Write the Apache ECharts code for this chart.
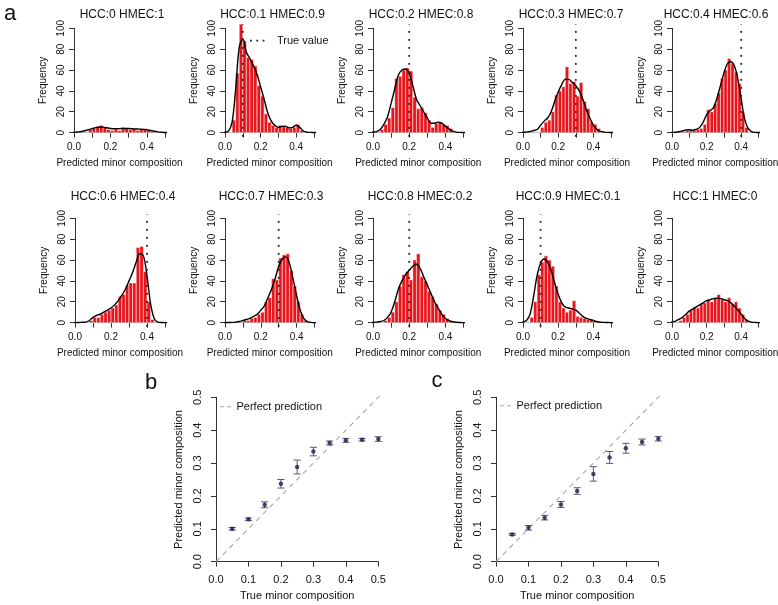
<!DOCTYPE html>
<html><head><meta charset="utf-8">
<script src="https://cdn.jsdelivr.net/npm/echarts@6/dist/echarts.min.js"></script>
<style>html,body{margin:0;padding:0;background:#fff}#c{width:778px;height:605px}</style>
</head><body><div id="c"></div>
<script>
const FONT = '"Liberation Sans", Arial, Helvetica, sans-serif';
const TXT = '#111';
const AX = '#333';
const BAR = '#e8161c';

// ---------- panel a : histograms ----------
const panelTitles = ['HCC:0 HMEC:1','HCC:0.1 HMEC:0.9','HCC:0.2 HMEC:0.8','HCC:0.3 HMEC:0.7','HCC:0.4 HMEC:0.6',
                     'HCC:0.6 HMEC:0.4','HCC:0.7 HMEC:0.3','HCC:0.8 HMEC:0.2','HCC:0.9 HMEC:0.1','HCC:1 HMEC:0'];
const trueValues = [null, 0.1, 0.2, 0.3, 0.4, 0.4, 0.3, 0.2, 0.1, null];
const binEdges = [0,0.02,0.04,0.06,0.08,0.10,0.12,0.14,0.16,0.18,0.20,0.22,0.24,0.26,0.28,0.30,0.32,0.34,0.36,0.38,0.40,0.42,0.44,0.46,0.48,0.50];
const hist1  = [0,0,0,0,3,4,5,7,5,3,2,3,2,5,4,3,4,2,3,4,2,1,0,0,0];
const hist2  = [0,0,12,57,104,88,72,70,64,45,35,18,10,7,5,7,7,5,4,5,8,2,0,0,0];
const hist3  = [0,0,3,8,14,24,52,54,60,62,59,34,23,24,19,12,5,9,10,8,7,4,0,0,0];
const hist4  = [0,0,0,0,0,5,10,12,20,36,40,44,63,47,49,35,48,30,23,10,8,4,0,0,0];
const hist5  = [0,0,0,1,2,2,2,3,4,8,22,20,28,38,52,60,71,66,58,47,20,5,0,0,0];
const hist6  = [0,0,0,0,2,5,5,8,10,12,14,17,25,27,36,38,38,72,73,49,20,3,0,0,0];
const hist7  = [0,0,0,0,0,2,2,4,5,8,10,20,24,42,41,62,65,66,50,35,20,8,2,0,0];
const hist8  = [0,0,0,2,5,10,20,35,46,49,41,60,66,44,40,30,25,18,12,8,4,2,0,0,0];
const hist9  = [0,0,5,20,46,58,64,60,54,35,20,14,10,12,21,6,5,4,3,3,2,0,0,0,0];
const hist10 = [0,0,2,5,8,12,15,14,18,19,22,20,24,27,22,20,24,18,20,14,8,3,0,0,0];

const curveX = [-0.02,0,0.02,0.04,0.06,0.08,0.10,0.12,0.14,0.16,0.18,0.20,0.22,0.24,0.26,0.28,0.30,0.32,0.34,0.36,0.38,0.40,0.42,0.44,0.46,0.48,0.50,0.52];
const curve1  = [0.1,0.3,0.6,1.0,1.8,2.8,3.8,4.8,5.3,5.2,4.6,4.0,3.7,3.7,3.9,4.0,3.9,3.7,3.5,3.3,3.1,2.7,2.0,1.3,0.7,0.3,0.1,0];
const curve2  = [0,0.2,1.5,10,42,82,90,77,71,64,56,44,32,19,11,7,5,6,6,4.5,5,7,5,1.5,0.5,0.2,0.1,0];
const curve3  = [0.2,0.5,1,3,8,15,28,42,55,60,61,57,45,32,26,20,14,9,9,10,9,6,3.5,1.5,0.5,0.2,0.1,0];
const curve4  = [0,0.3,0.5,1,2,3,7,11,14,20,30,39,46,51,51,48,45,40,32,22,14,7,3,1.2,0.5,0.2,0.1,0];
const curve5  = [0,0.2,0.4,0.8,1.5,2.5,2.8,2.2,3,5,10,17,21,24,33,45,57,66,68,64,52,32,13,4,1,0.2,0.1,0];
const curve6  = [0,0,0.1,0.3,0.5,2,5,7,8,10,12,14,17,21,26,32,40,48,58,66,64,45,18,4,0.5,0.1,0,0];
const curve7  = [0,0,0.1,0.2,0.5,1,2,3,4,6,8,12,16,24,32,42,54,61,63,57,42,26,12,4,1,0.2,0,0];
const curve8  = [0,0.1,0.5,1,2,5,10,20,32,40,46,50,54,56,52,44,36,28,20,14,8,4,2,0.8,0.3,0.1,0,0];
const curve9  = [0,0.5,2,8,25,45,57,61,58,50,38,27,19,15,14,13,12,9,6,4,3,2,1,0.4,0.2,0.1,0,0];
const curve10 = [0,0.5,1.5,3,5,8,11,13,15,17,19,21,22,23,23.5,23,22,21,19,16,12,8,4,1.5,0.5,0.2,0,0];

const hists = [hist1,hist2,hist3,hist4,hist5,hist6,hist7,hist8,hist9,hist10];
const curves = [curve1,curve2,curve3,curve4,curve5,curve6,curve7,curve8,curve9,curve10];
const histXTickLabels = ['0.0','','0.2','','0.4',''];
const histYRange = [0, 100];
const histYRegion = [-4, 104];

// ---------- panels b, c ----------
const trueComp = [0.05,0.10,0.15,0.20,0.25,0.30,0.35,0.40,0.45,0.50];
const predB = [0.100,0.129,0.173,0.237,0.288,0.335,0.361,0.369,0.371,0.373];
const errB  = [0.004,0.004,0.009,0.013,0.021,0.013,0.006,0.006,0.004,0.007];
const predC = [0.083,0.103,0.134,0.174,0.215,0.267,0.317,0.345,0.364,0.374];
const errC  = [0.003,0.007,0.007,0.009,0.010,0.022,0.018,0.015,0.009,0.007];
const compTickLabels = ['0.0','0.1','0.2','0.3','0.4','0.5'];
const compRegion = [-0.02, 0.52];

// ---------- layout ----------
const histLeft  = [74,225,373,523,672, 75,225,373,523,672];
const histScale = [182,178,181,176,173, 180,179,181,176,173];
const histTop   = [28.3,28.3,28.3,28.3,28.3, 218.3,218.3,218.3,218.3,218.3];
const histH = 104.3;
const titleCX = [122,272.5,421,571,716, 123,271,420,568,715];
const titleY  = [15,15,15,15,15, 197,197,197,197,197];
const scatLeft = [216, 496];
const scatTop = 397.3, scatW = 162.3, scatH = 164.4;

const grids = [], xAxes = [], yAxes = [], series = [], graphics = [];

function axisCommon(fs){
  return {
    axisLine:{show:true, lineStyle:{color:AX, width:1}},
    axisTick:{show:true, length:5, lineStyle:{color:AX, width:1}},
    splitLine:{show:false},
    nameTextStyle:{fontFamily:FONT, fontSize:fs, color:TXT},
  };
}

for (let i = 0; i < 10; i++) {
  const w = 0.5 * histScale[i];
  grids.push({left:histLeft[i], top:histTop[i], width:w, height:histH, outerBoundsMode:'none'});
  xAxes.push(Object.assign(axisCommon(10), {
    gridIndex:i, type:'value', min:0, max:0.5, interval:0.1, offset:4.2,
    name:'Predicted minor composition', nameLocation:'middle', nameGap:21,
    axisLabel:{fontFamily:FONT, fontSize:10, color:TXT, margin:5, showMinLabel:true, showMaxLabel:true,
      formatter:(v, idx) => histXTickLabels[idx]}
  }));
  yAxes.push(Object.assign(axisCommon(10), {
    gridIndex:i, type:'value', min:histYRange[0], max:histYRange[1], interval:20, offset:0.02*histScale[i],
    name:'Frequency', nameLocation:'middle', nameGap:22,
    axisLabel:{fontFamily:FONT, fontSize:10, color:TXT, margin:4, rotate:90}
  }));
  const hd = hists[i].map((c, k) => [binEdges[k], binEdges[k+1], c]);
  series.push({
    type:'custom', xAxisIndex:i, yAxisIndex:i, data:hd, encode:{x:[0,1], y:2}, z:2,
    renderItem:(params, api) => {
      const p0 = api.coord([api.value(0), api.value(2)]);
      const p1 = api.coord([api.value(1), 0]);
      return {type:'rect', shape:{x:p0[0], y:p0[1], width:p1[0]-p0[0], height:p1[1]-p0[1]},
              style:{fill:BAR, stroke:'#fff', lineWidth:0.5}};
    }
  });
  series.push({
    type:'line', xAxisIndex:i, yAxisIndex:i, data:curveX.map((x,k)=>[x, curves[i][k]]),
    smooth:0.35, symbol:'none', clip:false, z:4,
    lineStyle:{color:'#000', width:1.4}
  });
  if (trueValues[i] !== null) {
    series.push({
      type:'line', xAxisIndex:i, yAxisIndex:i, data:[[trueValues[i], histYRegion[0]],[trueValues[i], histYRegion[1]]],
      symbol:'none', clip:false, z:5,
      lineStyle:{color:'#222', width:1.8, type:[1.8,6.2]}
    });
  }
  graphics.push({type:'text', x:titleCX[i], y:titleY[i],
    style:{text:panelTitles[i], font:'12px '+FONT, fill:TXT, textAlign:'center', textVerticalAlign:'middle'}});
}

// legend "True value"
graphics.push({type:'line', shape:{x1:250, y1:40.7, x2:266, y2:40.7}, style:{stroke:'#222', lineWidth:1.8, lineDash:[1.8,4.5]}});
graphics.push({type:'text', x:277, y:40.7, style:{text:'True value', font:'11px '+FONT, fill:TXT, textAlign:'left', textVerticalAlign:'middle'}});

// panels b and c
const ERR = '#565a72';
const preds = [predB, predC], errs = [errB, errC];
for (let j = 0; j < 2; j++) {
  const gi = 10 + j;
  grids.push({left:scatLeft[j], top:scatTop, width:scatW, height:scatH, outerBoundsMode:'none'});
  xAxes.push(Object.assign(axisCommon(11), {
    gridIndex:gi, type:'value', min:0, max:0.5, interval:0.1, offset:6.6,
    name:'True minor composition', nameLocation:'middle', nameGap:22,
    axisLabel:{fontFamily:FONT, fontSize:11, color:TXT, margin:6, formatter:(v, idx) => compTickLabels[idx]}
  }));
  yAxes.push(Object.assign(axisCommon(11), {
    gridIndex:gi, type:'value', min:0, max:0.5, interval:0.1, offset:6.5,
    name:'Predicted minor composition', nameLocation:'middle', nameGap:25,
    axisLabel:{fontFamily:FONT, fontSize:11, color:TXT, margin:6, rotate:90, formatter:(v, idx) => compTickLabels[idx]}
  }));
  series.push({
    type:'line', xAxisIndex:gi, yAxisIndex:gi, data:[[compRegion[0],compRegion[0]],[compRegion[1],compRegion[1]]],
    symbol:'none', clip:false, z:1, lineStyle:{color:'#a8a8a8', width:1.1, type:[5,4.5]}
  });
  series.push({
    type:'custom', xAxisIndex:gi, yAxisIndex:gi, z:3,
    data:trueComp.map((x,k)=>[x, preds[j][k], errs[j][k]]), encode:{x:0, y:1},
    renderItem:(params, api) => {
      const x = api.value(0), y = api.value(1), e = api.value(2);
      const t = api.coord([x, y+e]), b = api.coord([x, y-e]);
      const w = 3.6, st = {stroke:ERR, lineWidth:1};
      return {type:'group', children:[
        {type:'line', shape:{x1:t[0],y1:t[1],x2:b[0],y2:b[1]}, style:st},
        {type:'line', shape:{x1:t[0]-w,y1:t[1],x2:t[0]+w,y2:t[1]}, style:st},
        {type:'line', shape:{x1:b[0]-w,y1:b[1],x2:b[0]+w,y2:b[1]}, style:st}]};
    }
  });
  series.push({
    type:'scatter', xAxisIndex:gi, yAxisIndex:gi, z:4, symbol:'circle', symbolSize:4.5,
    data:trueComp.map((x,k)=>[x, preds[j][k]]), itemStyle:{color:'#1d2150'}
  });
}
// legends for b, c
const legX = [220, 500], legY = [406.7, 405.7];
for (let j = 0; j < 2; j++) {
  graphics.push({type:'line', shape:{x1:legX[j], y1:legY[j], x2:legX[j]+13, y2:legY[j]}, style:{stroke:'#a8a8a8', lineWidth:1.1, lineDash:[4,3]}});
  graphics.push({type:'text', x:legX[j]+16.5, y:legY[j], style:{text:'Perfect prediction', font:'11px '+FONT, fill:TXT, textAlign:'left', textVerticalAlign:'middle'}});
}
// panel letters
const letters = [['a',10,14],['b',151,383],['c',437,381]];
letters.forEach(l => graphics.push({type:'text', x:l[1], y:l[2],
  style:{text:l[0], font:'22px '+FONT, fill:TXT, textAlign:'center', textVerticalAlign:'middle'}}));

const chart = echarts.init(document.getElementById('c'), null, {renderer:'canvas'});
chart.setOption({
  animation:false, backgroundColor:'#fff',
  grid:grids, xAxis:xAxes, yAxis:yAxes, series:series, graphic:graphics
});
</script></body></html>
